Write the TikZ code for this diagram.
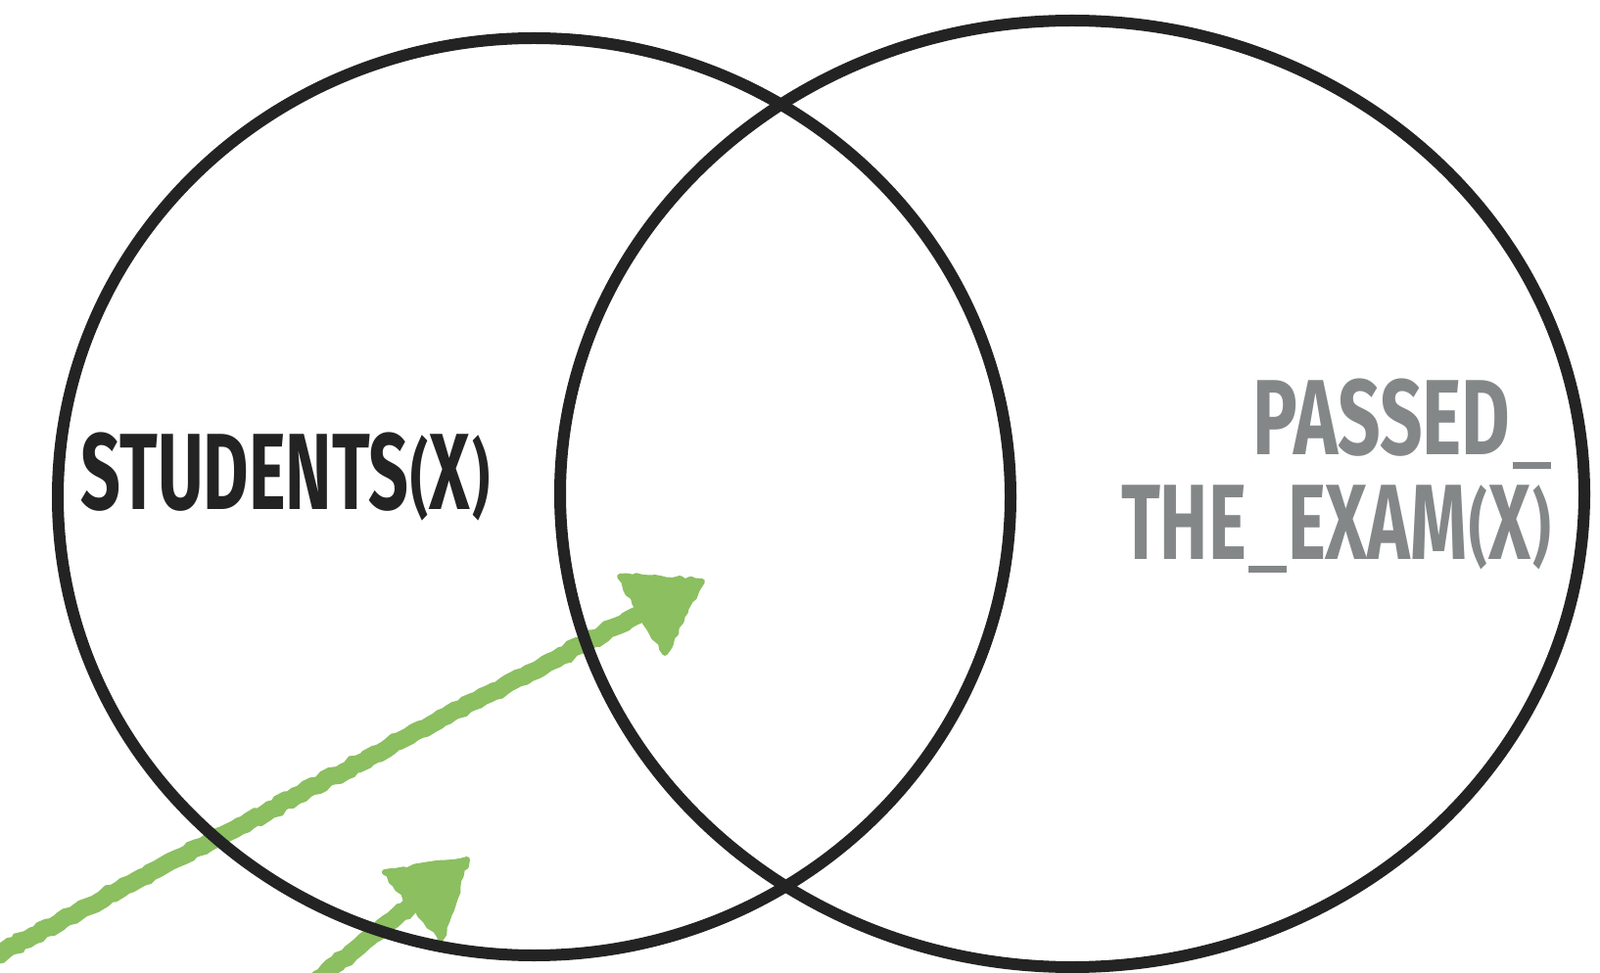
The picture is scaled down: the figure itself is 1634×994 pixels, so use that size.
\documentclass[tikz,border=0pt]{standalone}
\usepackage{fontspec}
\usepackage{graphicx}
\usetikzlibrary{decorations.pathmorphing}
\newfontfamily\dinfont{Fira Sans}
\newsavebox\glyphbox
\newcommand\fitlabel[3]{\resizebox{#1}{#2}{\smash{#3}\vphantom{T}}}
% parentheses flattened to span from cap top to a little below the baseline
\newcommand\flatparen[1]{\sbox\glyphbox{#1}\kern0.25pt\raisebox{-1pt}{\resizebox{!}{7.9pt}{\raisebox{\dp\glyphbox}{\usebox\glyphbox}}}\kern0.25pt}
% underscore set as a rule just below the baseline
\newcommand\flatbar{\kern0.3pt\rule[-1.25pt]{5.2pt}{0.6pt}\kern0.2pt}
\definecolor{ink}{RGB}{35,35,35}
\definecolor{labelgray}{RGB}{132,135,136}
\definecolor{chalkgreen}{RGB}{139,191,96}
\tikzset{
  setline/.style={draw=ink, line width=6pt},
  chalkshaft/.style={draw=chalkgreen, line width=9pt, line cap=round,
    decorate, decoration={random steps, segment length=3pt, amplitude=0.8pt}},
  chalkhead/.style={fill=chalkgreen, draw=chalkgreen, line width=3pt, line join=round,
    decorate, decoration={random steps, segment length=3pt, amplitude=1pt}},
  setlabel/.style={inner sep=0pt, outer sep=0pt}
}
\begin{document}
\begin{tikzpicture}[x=0.5pt, y=-0.5pt]
\useasboundingbox (0,0) rectangle (1634,994);
\fill[white] (0,0) rectangle (1634,994);
% arrows (drawn beneath the set outlines)
\coordinate (a1start) at (-10,979);
\coordinate (a1base) at (652,628);
\coordinate (a1tip) at (717,594);
\coordinate (a1l) at (633,589);
\coordinate (a1r) at (679,667);
\coordinate (a2start) at (325,1000);
\coordinate (a2base) at (419,925);
\coordinate (a2tip) at (477,878);
\coordinate (a2l) at (393,891);
\coordinate (a2r) at (450,959);
\draw[chalkshaft] (a1start) -- (a1base);
\draw[chalkhead] (a1l) -- (a1tip) -- (a1r) -- cycle;
\draw[chalkshaft] (a2start) -- (a2base);
\draw[chalkhead] (a2l) -- (a2tip) -- (a2r) -- cycle;
% sets
\coordinate (leftc) at (545.5,507.5);
\coordinate (rightc) at (1095,504.5);
\draw[setline] (leftc) ellipse [x radius=243.25pt, y radius=234.25pt];
\draw[setline] (rightc) ellipse [x radius=261.5pt, y radius=241.75pt];
% labels
\node[setlabel, anchor=base west, text=ink] (students) at (83,521)
  {\fitlabel{209.5pt}{37.5pt}{\dinfont\bfseries STUDENTS\flatparen{(}X\flatparen{)}}};
\node[setlabel, anchor=base east, text=labelgray] (passed) at (1586,465)
  {\fitlabel{153pt}{37pt}{\dinfont\bfseries PASSED\flatbar}};
\node[setlabel, anchor=base east, text=labelgray] (exam) at (1586,571)
  {\fitlabel{220.5pt}{37pt}{\dinfont\bfseries THE\flatbar EXAM\flatparen{(}X\flatparen{)}}};
\end{tikzpicture}
\end{document}
